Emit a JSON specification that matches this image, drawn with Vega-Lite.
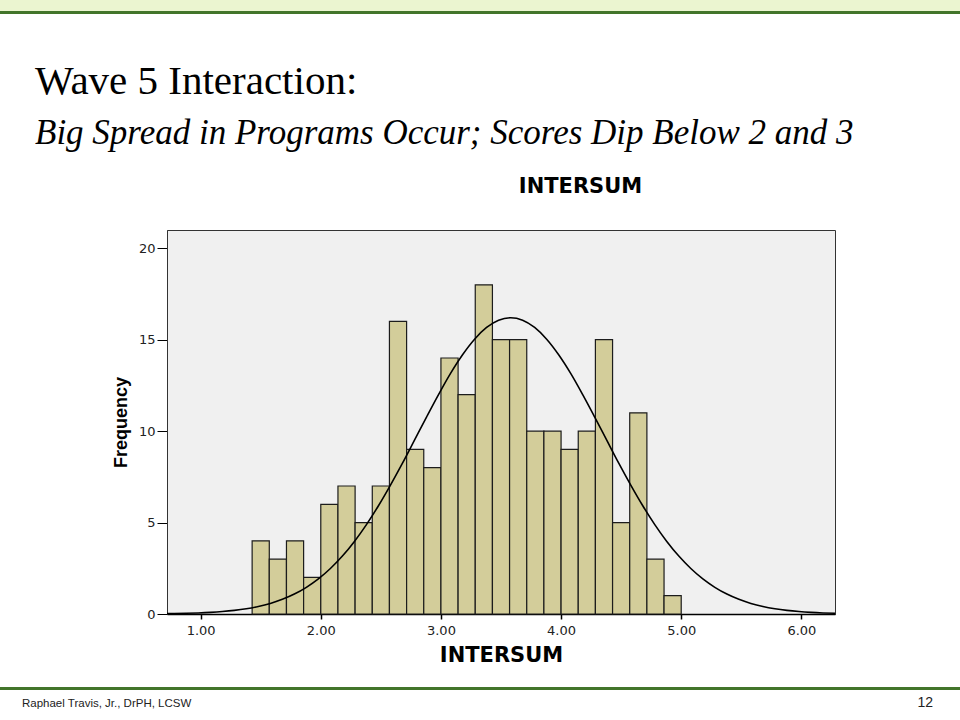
{
  "$schema": "https://vega.github.io/schema/vega-lite/v6.json",
  "width": 668,
  "height": 384,
  "autosize": {"type": "none"},
  "padding": {"left": 167, "top": 230, "right": 125, "bottom": 106},
  "background": "white",
  "title": {
    "text": "Wave 5 Interaction:",
    "subtitle": "Big Spread in Programs Occur; Scores Dip Below 2 and 3",
    "anchor": "start",
    "frame": "group",
    "dx": -132,
    "dy": 174,
    "offset": 22,
    "font": "Liberation Serif",
    "fontSize": 41,
    "fontWeight": "normal",
    "color": "#000000",
    "subtitleFont": "Liberation Serif",
    "subtitleFontSize": 35,
    "subtitleFontStyle": "italic",
    "subtitleColor": "#000000",
    "subtitlePadding": 13
  },
  "config": {
    "font": "Liberation Sans",
    "view": {"fill": "#f0f0f0", "stroke": "#333333", "strokeWidth": 1}
  },
  "datasets": {
    "bins": [
      {"bin_start": 1.4286, "bin_end": 1.5714, "count": 4},
      {"bin_start": 1.5714, "bin_end": 1.7143, "count": 3},
      {"bin_start": 1.7143, "bin_end": 1.8571, "count": 4},
      {"bin_start": 1.8571, "bin_end": 2.0, "count": 2},
      {"bin_start": 2.0, "bin_end": 2.1429, "count": 6},
      {"bin_start": 2.1429, "bin_end": 2.2857, "count": 7},
      {"bin_start": 2.2857, "bin_end": 2.4286, "count": 5},
      {"bin_start": 2.4286, "bin_end": 2.5714, "count": 7},
      {"bin_start": 2.5714, "bin_end": 2.7143, "count": 16},
      {"bin_start": 2.7143, "bin_end": 2.8571, "count": 9},
      {"bin_start": 2.8571, "bin_end": 3.0, "count": 8},
      {"bin_start": 3.0, "bin_end": 3.1429, "count": 14},
      {"bin_start": 3.1429, "bin_end": 3.2857, "count": 12},
      {"bin_start": 3.2857, "bin_end": 3.4286, "count": 18},
      {"bin_start": 3.4286, "bin_end": 3.5714, "count": 15},
      {"bin_start": 3.5714, "bin_end": 3.7143, "count": 15},
      {"bin_start": 3.7143, "bin_end": 3.8571, "count": 10},
      {"bin_start": 3.8571, "bin_end": 4.0, "count": 10},
      {"bin_start": 4.0, "bin_end": 4.1429, "count": 9},
      {"bin_start": 4.1429, "bin_end": 4.2857, "count": 10},
      {"bin_start": 4.2857, "bin_end": 4.4286, "count": 15},
      {"bin_start": 4.4286, "bin_end": 4.5714, "count": 5},
      {"bin_start": 4.5714, "bin_end": 4.7143, "count": 11},
      {"bin_start": 4.7143, "bin_end": 4.8571, "count": 3},
      {"bin_start": 4.8571, "bin_end": 5.0, "count": 1}
    ],
    "curve": [
      {"x": 0.72, "density": 0.018},
      {"x": 0.78, "density": 0.024},
      {"x": 0.88, "density": 0.037},
      {"x": 0.98, "density": 0.058},
      {"x": 1.08, "density": 0.089},
      {"x": 1.18, "density": 0.134},
      {"x": 1.28, "density": 0.198},
      {"x": 1.38, "density": 0.288},
      {"x": 1.48, "density": 0.412},
      {"x": 1.58, "density": 0.58},
      {"x": 1.68, "density": 0.802},
      {"x": 1.78, "density": 1.09},
      {"x": 1.88, "density": 1.46},
      {"x": 1.98, "density": 1.92},
      {"x": 2.08, "density": 2.49},
      {"x": 2.18, "density": 3.17},
      {"x": 2.28, "density": 3.97},
      {"x": 2.38, "density": 4.89},
      {"x": 2.48, "density": 5.92},
      {"x": 2.58, "density": 7.05},
      {"x": 2.68, "density": 8.25},
      {"x": 2.78, "density": 9.51},
      {"x": 2.88, "density": 10.77},
      {"x": 2.98, "density": 12.0},
      {"x": 3.08, "density": 13.16},
      {"x": 3.18, "density": 14.18},
      {"x": 3.28, "density": 15.03},
      {"x": 3.38, "density": 15.67},
      {"x": 3.48, "density": 16.07},
      {"x": 3.58, "density": 16.2},
      {"x": 3.68, "density": 16.07},
      {"x": 3.78, "density": 15.67},
      {"x": 3.88, "density": 15.03},
      {"x": 3.98, "density": 14.18},
      {"x": 4.08, "density": 13.16},
      {"x": 4.18, "density": 12.0},
      {"x": 4.28, "density": 10.77},
      {"x": 4.38, "density": 9.51},
      {"x": 4.48, "density": 8.25},
      {"x": 4.58, "density": 7.05},
      {"x": 4.68, "density": 5.92},
      {"x": 4.78, "density": 4.89},
      {"x": 4.88, "density": 3.97},
      {"x": 4.98, "density": 3.17},
      {"x": 5.08, "density": 2.49},
      {"x": 5.18, "density": 1.92},
      {"x": 5.28, "density": 1.46},
      {"x": 5.38, "density": 1.09},
      {"x": 5.48, "density": 0.802},
      {"x": 5.58, "density": 0.58},
      {"x": 5.68, "density": 0.412},
      {"x": 5.78, "density": 0.288},
      {"x": 5.88, "density": 0.198},
      {"x": 5.98, "density": 0.134},
      {"x": 6.08, "density": 0.089},
      {"x": 6.18, "density": 0.058},
      {"x": 6.28, "density": 0.037}
    ]
  },
  "layer": [
    {
      "data": {"values": [{}]},
      "mark": {"type": "rect", "color": "#ebf5d0"},
      "encoding": {
        "x": {"datum": -0.8, "type": "quantitative", "axis": null},
        "x2": {"datum": 7.5},
        "y": {"datum": 33.578, "type": "quantitative", "title": "Frequency"},
        "y2": {"datum": 32.977}
      }
    },
    {
      "data": {"values": [{}]},
      "mark": {"type": "rect", "color": "#42752a"},
      "encoding": {
        "x": {"datum": -0.8, "type": "quantitative", "axis": null},
        "x2": {"datum": 7.5},
        "y": {"datum": 32.977, "type": "quantitative", "title": "Frequency"},
        "y2": {"datum": 32.813}
      }
    },
    {
      "data": {"values": [{}]},
      "mark": {"type": "rect", "color": "#42752a"},
      "encoding": {
        "x": {"datum": -0.8, "type": "quantitative", "axis": null},
        "x2": {"datum": 7.5},
        "y": {"datum": -3.992, "type": "quantitative", "title": "Frequency"},
        "y2": {"datum": -4.156}
      }
    },
    {
      "data": {"values": [{"label": "Raphael Travis, Jr., DrPH, LCSW"}]},
      "mark": {"type": "text", "align": "left", "baseline": "alphabetic", "font": "Liberation Sans", "fontSize": 11.5, "color": "#222222"},
      "encoding": {
        "x": {"datum": -0.487, "type": "quantitative", "axis": null},
        "y": {"datum": -5.086, "type": "quantitative", "title": "Frequency"},
        "text": {"field": "label"}
      }
    },
    {
      "data": {"values": [{"label": "12"}]},
      "mark": {"type": "text", "align": "right", "baseline": "alphabetic", "font": "Liberation Sans", "fontSize": 14, "color": "#222222"},
      "encoding": {
        "x": {"datum": 7.096, "type": "quantitative", "axis": null},
        "y": {"datum": -5.086, "type": "quantitative", "title": "Frequency"},
        "text": {"field": "label"}
      }
    },
    {
      "data": {"name": "bins"},
      "mark": {"type": "bar", "fill": "#d3cd9a", "stroke": "#1c1c1c", "strokeWidth": 1.2},
      "encoding": {
        "x": {
          "field": "bin_start",
          "type": "quantitative",
          "scale": {"domain": [0.72, 6.28], "nice": false, "zero": false},
          "axis": {
            "orient": "bottom",
            "values": [1, 2, 3, 4, 5, 6],
            "format": ".2f",
            "title": "INTERSUM",
            "grid": false,
            "tickSize": 5,
            "tickColor": "#000000",
            "tickWidth": 1.5,
            "labelFont": "DejaVu Sans",
            "labelFontSize": 13,
            "labelColor": "#222222",
            "labelPadding": 5,
            "domainColor": "#000000",
            "domainWidth": 1.5,
            "titleFont": "DejaVu Sans",
            "titleFontSize": 21,
            "titleFontWeight": "bold",
            "titleColor": "#000000",
            "titlePadding": 7
          }
        },
        "x2": {"field": "bin_end"},
        "y": {
          "field": "count",
          "type": "quantitative",
          "title": "Frequency",
          "scale": {"domain": [0, 21], "nice": false},
          "axis": {
            "values": [0, 5, 10, 15, 20],
            "grid": false,
            "tickSize": 10,
            "tickColor": "#000000",
            "labelFont": "DejaVu Sans",
            "labelFontSize": 13,
            "labelColor": "#222222",
            "labelPadding": 2,
            "domainColor": "#333333",
            "titleFont": "Liberation Sans",
            "titleFontSize": 18,
            "titleFontWeight": "bold",
            "titleColor": "#000000",
            "titlePadding": 8
          }
        },
        "y2": {"datum": 0}
      }
    },
    {
      "data": {"name": "curve"},
      "mark": {"type": "line", "color": "#000000", "strokeWidth": 1.6, "interpolate": "monotone"},
      "encoding": {
        "x": {
          "field": "x",
          "type": "quantitative",
          "axis": {
            "orient": "top",
            "labels": false,
            "ticks": false,
            "domain": false,
            "grid": false,
            "title": "INTERSUM",
            "titleX": 413,
            "titleY": -38,
            "titleBaseline": "alphabetic",
            "titleAlign": "center",
            "titleAnchor": "start",
            "titleFont": "DejaVu Sans",
            "titleFontSize": 21,
            "titleFontWeight": "bold",
            "titleColor": "#000000"
          }
        },
        "y": {"field": "density", "type": "quantitative", "title": "Frequency"}
      }
    }
  ],
  "resolve": {"axis": {"x": "independent"}}
}
